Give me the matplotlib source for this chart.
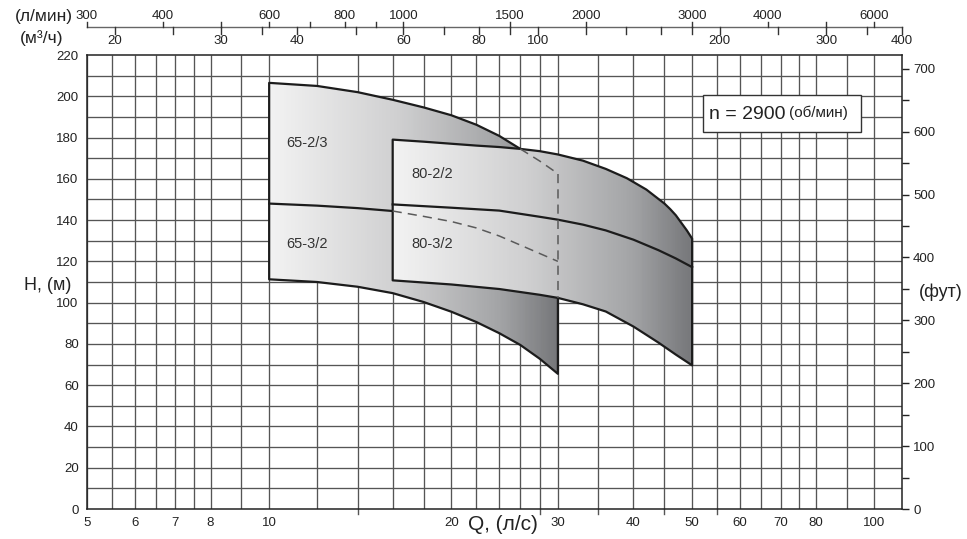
import numpy as np
import matplotlib
matplotlib.use('Agg')
import matplotlib.pyplot as plt
from matplotlib.patches import Polygon, Rectangle
from matplotlib.colors import LinearSegmentedColormap
from matplotlib.ticker import FixedLocator, NullLocator, FixedFormatter
import matplotlib.transforms as mtransforms

plt.rcParams['font.family'] = ['Liberation Sans', 'DejaVu Sans']

# ---------------- data (Q in l/s, H in m) ----------------
q_65_top = [10, 12, 14, 16, 18, 20, 22, 24, 26, 28, 30]
h_65_top = [206.5, 205.0, 202.0, 198.3, 194.6, 190.8, 186.2, 180.8, 174.5, 168.6, 162.5]
q_65_mid = [10, 12, 14, 16, 18, 20, 22, 24, 26, 28, 30]
h_65_mid = [148.0, 147.0, 145.8, 144.4, 141.8, 139.3, 136.2, 132.3, 127.9, 123.8, 120.0]
q_65_bot = [10, 12, 14, 16, 18, 20, 22, 24, 26, 28, 30]
h_65_bot = [111.3, 110.0, 107.7, 104.6, 100.3, 95.6, 90.6, 85.2, 79.5, 72.8, 65.5]

q_80_top = [16, 18, 20, 22, 24, 26, 28, 30, 33, 36, 39, 42, 45, 46, 47, 48, 49, 50]
h_80_top = [179.0, 178.0, 177.0, 176.1, 175.4, 174.5, 173.4, 171.8, 168.8, 164.8, 160.3, 154.8,
            148.0, 145.3, 142.3, 138.6, 135.0, 131.0]
q_80_mid = [16, 20, 24, 28, 30, 33, 36, 40, 44, 47, 50]
h_80_mid = [147.6, 146.0, 144.6, 141.6, 140.2, 137.8, 135.0, 130.5, 125.4, 121.4, 117.2]
q_80_bot = [16, 20, 24, 28, 30, 33, 36, 40, 44, 47, 50]
h_80_bot = [110.8, 108.8, 106.6, 103.8, 102.3, 99.2, 95.7, 88.4, 80.6, 74.8, 69.6]

model_labels = ['65-2/3', '65-3/2', '80-2/2', '80-3/2']
label_q = [11.55, 11.55, 18.6, 18.6]
label_h = [177.5, 128.2, 162.3, 128.2]

grid_q = [5, 5.5, 6, 6.5, 7, 7.5, 8, 9, 10, 12, 14, 16, 18, 20, 22, 24, 26, 28, 30,
          35, 40, 45, 50, 55, 60, 65, 70, 75, 80, 90, 100]
x_tick_vals = [5, 6, 7, 8, 10, 20, 30, 40, 50, 60, 70, 80, 100]
x_minor_marks = [14, 28, 35, 45, 55]
y_tick_vals = list(range(0, 221, 20))
ft_major = list(range(0, 701, 100))
ft_minor = list(range(50, 701, 100))
lmin_ticks = [300, 400, 500, 600, 700, 800, 900, 1000, 1500, 2000, 3000, 4000, 5000, 6000]
lmin_labels = [300, 400, 600, 800, 1000, 1500, 2000, 3000, 4000, 6000]
m3h_ticks = [20, 25, 30, 35, 40, 50, 60, 70, 80, 90, 100, 120, 140, 160, 180, 200, 250, 300, 350, 400]
m3h_labels = [20, 30, 40, 60, 80, 100, 200, 300, 400]

Q_MIN, Q_MAX = 5, 400 / 3.6
H_MAX = 220

# ---------------- figure ----------------
W, Hpx = 967, 539
fig = plt.figure(figsize=(W / 100, Hpx / 100), dpi=100)
L, R, T, B = 87, 902, 55, 509
ax = fig.add_axes([L / W, 1 - B / Hpx, (R - L) / W, (B - T) / Hpx])
ax.set_xscale('log')
ax.set_xlim(Q_MIN, Q_MAX)
ax.set_ylim(0, H_MAX)

gcol = '#555555'
ax.vlines(grid_q, 0, H_MAX, color=gcol, lw=0.95, zorder=1)
ax.hlines(np.arange(10, H_MAX, 10), Q_MIN, Q_MAX, color=gcol, lw=0.95, zorder=1)

for s in ax.spines.values():
    s.set_color('#222222')
    s.set_linewidth(1.1)

ax.xaxis.set_major_locator(FixedLocator(x_tick_vals))
ax.xaxis.set_major_formatter(FixedFormatter([str(v) for v in x_tick_vals]))
ax.xaxis.set_minor_locator(NullLocator())
ax.set_yticks(y_tick_vals)
ax.tick_params(axis='both', length=0, labelsize=9.5, colors='#222222')
ax.tick_params(axis='x', pad=6)
ax.tick_params(axis='y', pad=6)

# small marks below bottom axis
transb = mtransforms.blended_transform_factory(ax.transData, ax.transAxes)
for q in x_minor_marks:
    ax.plot([q, q], [0, -5 / (B - T)], transform=transb, clip_on=False, color=gcol, lw=1.0)

# ---------------- gradient-filled regions ----------------
cmap = LinearSegmentedColormap.from_list('g', [(0.0, '#f2f2f2'), (0.45, '#cfcfd0'),
                                                (0.8, '#a3a4a6'), (1.0, '#76777a')])


def region(q_top, h_top, q_bot, h_bot, z):
    xy = list(zip(q_top, h_top)) + list(zip(q_bot[::-1], h_bot[::-1]))
    clip = Polygon(xy, closed=True, facecolor='none', edgecolor='none')
    ax.add_patch(clip)
    xs = np.geomspace(q_top[0], q_top[-1], 240)
    c = np.linspace(0, 1, len(xs) - 1)[None, :]
    mesh = ax.pcolormesh(xs, [0, H_MAX], c, cmap=cmap, vmin=0, vmax=1, shading='flat',
                         zorder=z, antialiased=False, linewidth=0)
    mesh.set_clip_path(clip)
    ax.add_patch(Polygon(xy, closed=True, fill=False, edgecolor='#1c1c1c', lw=1.6,
                         joinstyle='round', zorder=z + 0.2))


region(q_65_top, h_65_top, q_65_bot, h_65_bot, 2)
ax.plot(q_65_mid, h_65_mid, color='#1c1c1c', lw=1.6, zorder=2.2, solid_joinstyle='round')
region(q_80_top, h_80_top, q_80_bot, h_80_bot, 3)
ax.plot(q_80_mid, h_80_mid, color='#1c1c1c', lw=1.6, zorder=3.2, solid_joinstyle='round')

# hidden edges of the 65 region (dashed)
dcol = '#5a5a5a'
qa = np.array(q_65_top)
ha = np.array(h_65_top)
hidden = ha <= np.interp(qa, q_80_top, h_80_top) + 0.01
ax.plot(qa[hidden], ha[hidden], color=dcol, lw=1.1, dashes=(6, 4), zorder=4)
qm = np.array(q_65_mid)
hm = np.array(h_65_mid)
ax.plot(qm[qm >= q_80_top[0]], hm[qm >= q_80_top[0]], color=dcol, lw=1.1, dashes=(6, 4), zorder=4)
ax.plot([q_65_top[-1], q_65_top[-1]],
        [h_65_top[-1], np.interp(q_65_top[-1], q_80_bot, h_80_bot)],
        color=dcol, lw=1.1, dashes=(6, 4), zorder=4)

for t, q, h in zip(model_labels, label_q, label_h):
    ax.text(q, h, t, ha='center', va='center', fontsize=10.5, color='#333333', zorder=5)

# rpm box
ax.add_patch(Rectangle((52.2, 182.8), 94.9 - 52.2, 200.6 - 182.8, facecolor='white',
                       edgecolor='#333333', lw=1.0, zorder=5))
ax.text(53.3, 191.4, 'n = 2900', ha='left', va='center', fontsize=14, color='#222222', zorder=6)
ax.text(72.2, 192.0, '(об/мин)', ha='left', va='center', fontsize=11, color='#222222', zorder=6)

# ---------------- right axis (feet) ----------------
ax2 = ax.twinx()
ax2.set_ylim(0, H_MAX / 0.3048)
ax2.yaxis.set_major_locator(FixedLocator(ft_major))
ax2.yaxis.set_minor_locator(FixedLocator(ft_minor))
ax2.tick_params(axis='y', which='both', direction='out', length=5, width=1.0,
                colors='#222222', labelsize=9.5, pad=3)
for s in ax2.spines.values():
    s.set_visible(False)

# ---------------- top scales (l/min and m3/h) ----------------
ph = B - T
yb = (B - 27) / ph
line_c = '#666666'
ax.plot([Q_MIN, Q_MAX], [yb, yb], transform=transb, clip_on=False, color=line_c, lw=1.0)
for v in lmin_ticks:
    q = v / 60.0
    ax.plot([q, q], [yb, yb + 5.5 / ph], transform=transb, clip_on=False, color='#333333', lw=1.0)
for v in lmin_labels:
    ax.text(v / 60.0, (B - 16) / ph, str(v), transform=transb, ha='center', va='center',
            fontsize=9.5, color='#222222')
for v in m3h_ticks:
    q = v / 3.6
    ax.plot([q, q], [yb, yb - 6.5 / ph], transform=transb, clip_on=False, color='#333333', lw=1.0)
for v in m3h_labels:
    ax.text(v / 3.6, (B - 41) / ph, str(v), transform=transb, ha='center', va='center',
            fontsize=9.5, color='#222222')

# ---------------- axis titles ----------------
fig.text(73 / W, 1 - 16 / Hpx, '(л/мин)', ha='right', va='center', fontsize=12.5, color='#222222')
fig.text(63 / W, 1 - 38 / Hpx, '(м³/ч)', ha='right', va='center', fontsize=12.5, color='#222222')
fig.text(71 / W, 1 - 285 / Hpx, 'H, (м)', ha='right', va='center', fontsize=13, color='#222222')
fig.text(941 / W, 1 - 292 / Hpx, '(фут)', ha='center', va='center', fontsize=13, color='#222222')
fig.text(468 / W, 1 - 525 / Hpx, 'Q, (л/с)', ha='left', va='center', fontsize=15, color='#222222')

fig.savefig('out.png', dpi=100)
